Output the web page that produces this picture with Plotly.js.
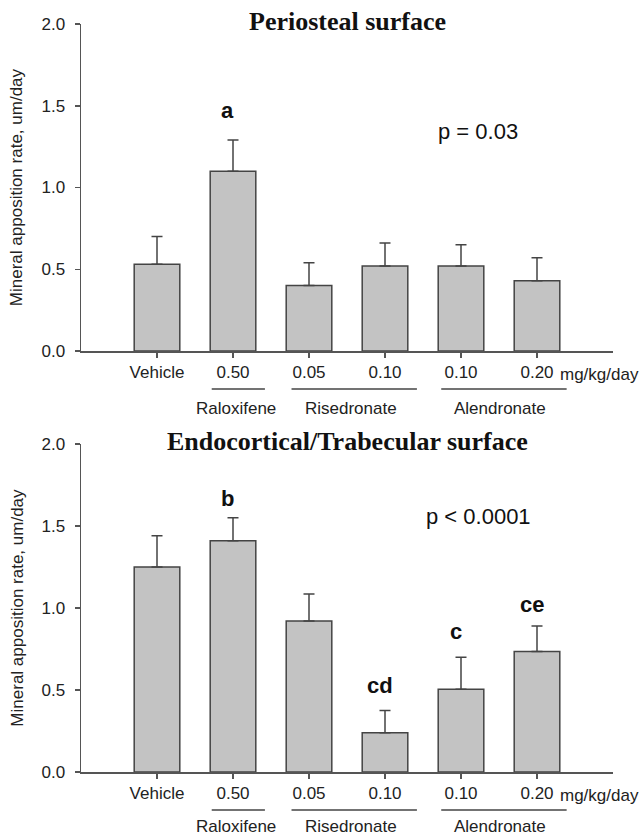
<!DOCTYPE html>
<html>
<head>
<meta charset="utf-8">
<script src="https://cdn.plot.ly/plotly-3.0.1.min.js"></script>
<style>html,body{margin:0;padding:0;background:#fff;}#chart{width:642px;height:837px;}</style>
</head>
<body>
<div id="chart"></div>
<script>
// ---- data ----
const tickLabels = ["Vehicle", "0.50", "0.05", "0.10", "0.10", "0.20"];
const groupNames = ["Raloxifene", "Risedronate", "Alendronate"];
const periostealMean = [0.53, 1.10, 0.40, 0.52, 0.52, 0.43];
const periostealErr  = [0.17, 0.19, 0.14, 0.14, 0.13, 0.14];
const endocorticalMean = [1.25, 1.41, 0.92, 0.24, 0.505, 0.735];
const endocorticalErr  = [0.19, 0.14, 0.165, 0.135, 0.195, 0.155];
const periostealLetters = [{i: 1, t: "a", y: 1.47}];
const endocorticalLetters = [
  {i: 1, t: "b", y: 1.67},
  {i: 3, t: "cd", y: 0.53},
  {i: 4, t: "c", y: 0.855},
  {i: 5, t: "ce", y: 1.02}
];
const panelTitles = ["Periosteal surface", "Endocortical/Trabecular surface"];
const pTexts = ["p = 0.03", "p < 0.0001"];
const pY = [1.345, 1.56];
const yTitle = "Mineral apposition rate, um/day";

// ---- build ----
const xs = tickLabels.map((_, i) => i);
const zeros = xs.map(() => 0);
const sans = "Liberation Sans, Arial, sans-serif";
const serif = "Liberation Serif, Times New Roman, serif";
const axisCol = "#555";

function barTrace(y, err, xa, ya) {
  return {
    type: "bar", x: xs, y: y, xaxis: xa, yaxis: ya, width: 0.6,
    marker: {color: "#c3c3c3", line: {color: "#444", width: 1.5}},
    error_y: {type: "data", array: err, arrayminus: zeros, symmetric: false,
              color: "#444", thickness: 1.5, width: 5.5},
    hoverinfo: "none", showlegend: false
  };
}

const data = [
  barTrace(periostealMean, periostealErr, "x", "y"),
  barTrace(endocorticalMean, endocorticalErr, "x2", "y2")
];

function xAxis(anchor) {
  return {
    anchor: anchor, domain: [0, 1], range: [-1, 6],
    tickmode: "array", tickvals: xs, ticktext: tickLabels,
    ticks: "outside", ticklen: 5, tickcolor: axisCol, tickwidth: 1.5,
    showline: true, linecolor: axisCol, linewidth: 1.5,
    showgrid: false, zeroline: false,
    tickfont: {family: sans, size: 17, color: "#222"}
  };
}
function yAxis(anchor, dom) {
  return {
    anchor: anchor, domain: dom, range: [0, 2],
    tickvals: [0, 0.5, 1.0, 1.5, 2.0], ticktext: ["0.0", "0.5", "1.0", "1.5", "2.0"],
    ticks: "outside", ticklen: 5, tickcolor: axisCol, tickwidth: 1.5,
    ticklabelstandoff: 6,
    showline: true, linecolor: axisCol, linewidth: 1.5,
    showgrid: false, zeroline: false,
    tickfont: {family: sans, size: 17, color: "#222"}
  };
}

const topDom = [0.5628, 1];
const botDom = [0, 0.4385];

const annotations = [];
const shapes = [];
// group underline spans & label centers in axis units
const groupSpans = [[0.72, 1.42], [1.77, 3.42], [3.74, 5.39]];
const groupCenters = [1.04, 2.55, 4.51];

function panelExtras(k, xr, yr, domBottom, domTop, letters) {
  annotations.push({xref: "paper", yref: "paper", x: 0.5, y: domTop + 0.004, text: "<b>" + panelTitles[k] + "</b>",
    showarrow: false, xanchor: "center", yanchor: "middle",
    font: {family: serif, size: 26, color: "#111"}});
  annotations.push({xref: "paper", yref: "paper", x: -0.121, y: (domBottom + domTop) / 2, text: yTitle,
    textangle: -90, showarrow: false, xanchor: "center", yanchor: "middle",
    font: {family: sans, size: 17, color: "#222"}});
  annotations.push({xref: xr, yref: yr, x: 4.23, y: pY[k], text: pTexts[k],
    showarrow: false, xanchor: "center", yanchor: "middle",
    font: {family: sans, size: 22, color: "#111"}});
  letters.forEach(l => annotations.push({xref: xr, yref: yr, x: l.i - 0.07, y: l.y,
    text: "<b>" + l.t + "</b>", showarrow: false, xanchor: "center", yanchor: "middle",
    font: {family: sans, size: 22, color: "#111"}}));
  const pxPerPaper = 748;
  const tickLabY = domBottom - 23 / pxPerPaper;
  const lineY = domBottom - 38 / pxPerPaper;
  const groupY = domBottom - (k === 0 ? 57 : 54) / pxPerPaper;
  annotations.push({xref: xr, yref: "paper", x: 5.28, y: tickLabY, text: "mg/kg/day",
    showarrow: false, xanchor: "left", yanchor: "middle",
    font: {family: sans, size: 17, color: "#222"}});
  groupSpans.forEach((s, j) => {
    shapes.push({type: "line", xref: xr, yref: "paper", x0: s[0], x1: s[1], y0: lineY, y1: lineY,
      line: {color: "#444", width: 1.5}});
    annotations.push({xref: xr, yref: "paper", x: groupCenters[j], y: groupY, text: groupNames[j],
      showarrow: false, xanchor: "center", yanchor: "middle",
      font: {family: sans, size: 17, color: "#222"}});
  });
}

panelExtras(0, "x", "y", topDom[0], topDom[1], periostealLetters);
panelExtras(1, "x2", "y2", botDom[0], botDom[1], endocorticalLetters);

const layout = {
  width: 642, height: 837,
  margin: {l: 81, r: 29, t: 24, b: 65},
  paper_bgcolor: "#fff", plot_bgcolor: "#fff",
  xaxis: xAxis("y"), yaxis: yAxis("x", topDom),
  xaxis2: xAxis("y2"), yaxis2: yAxis("x2", botDom),
  annotations: annotations, shapes: shapes,
  bargap: 0.4, showlegend: false
};

Plotly.newPlot("chart", data, layout, {displayModeBar: false, staticPlot: true});
</script>
</body>
</html>
